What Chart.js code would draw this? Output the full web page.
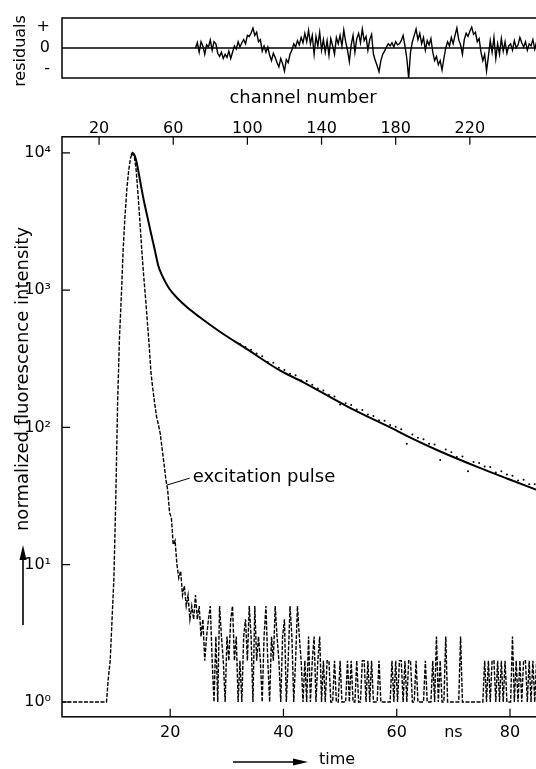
<!DOCTYPE html>
<html>
<head>
<meta charset="utf-8">
<script src="https://cdn.jsdelivr.net/npm/chart.js@4.4.1/dist/chart.umd.min.js"></script>
<style>
  html, body { margin: 0; padding: 0; background: #fff; overflow: hidden; }
  #wrap { position: relative; width: 536px; height: 769px; overflow: hidden; }
  #mainChart, #residChart { position: absolute; left: 0; top: 0; }
</style>
</head>
<body>
<div id="wrap">
  <canvas id="mainChart" width="550" height="769"></canvas>
  <canvas id="residChart" width="550" height="100"></canvas>
</div>
<script>
// axis ticks
const channelTicks = [20, 60, 100, 140, 180, 220]
const timeTicks = [20, 40, 60, 80]
const nsTick = 70
const yTickValues = [1, 10, 100, 1000, 10000]
const yTickLabels = ["10\u2070", "10\u00b9", "10\u00b2", "10\u00b3", "10\u2074"]
const residTicks = [-1, 0, 1]
const residTickLabels = ["-", "0", "+"]

// excitation pulse, one value per channel (channel 0 .. 260)
const excitationValues = [
  1, 1, 1, 1, 1, 1, 1, 1, 1, 1, 1, 1, 1, 1, 1, 1, 1, 1, 1, 1, 1, 1, 1, 1,
  1, 1.5, 2, 4, 8, 30, 150, 450, 900, 2000, 3500, 5500, 7500, 9200,
  10000, 9500, 7500, 5000, 3200, 2000, 1300, 900, 600, 400, 250, 190, 150, 120, 105, 90, 70, 55, 42,
  35, 24, 22, 14, 15, 10,
  8, 9, 6, 7, 5, 6, 4, 5, 4, 6,
  4, 5, 3, 4, 2, 3, 4, 5, 2, 1,
  3, 1, 5, 3, 2, 1, 3, 2, 4, 5,
  2, 3, 1, 2, 1, 3, 4, 2, 5, 3,
  1, 5, 2, 3, 2, 1, 3, 5, 2, 1,
  3, 2, 5, 3, 2, 1, 3, 4, 1, 2,
  5, 3, 1, 2, 5, 3, 2, 1, 2, 1,
  3, 1, 2, 3, 1, 2, 3, 1,
  2, 1, 2, 2, 1, 1, 2, 1, 1, 2,
  1, 1, 1, 2, 1, 2, 1, 1, 2, 1,
  1, 2, 2, 1, 2, 1, 2, 1, 1, 1,
  2, 1, 1, 1, 1, 1, 1, 2, 1, 2,
  1, 2, 2, 1, 2, 1, 2, 2, 1, 1,
  2, 1, 1, 1, 1, 2, 1, 1, 1, 2,
  1, 3, 1, 2, 1, 1, 3, 1, 1, 1,
  1, 1, 1, 1, 3, 1, 1, 1, 1, 1,
  1, 1, 1, 1, 1, 1, 1, 2, 1, 2,
  1, 2, 2, 1, 2, 1, 2, 1, 2, 1,
  1, 1, 3, 1, 2, 1, 2, 1, 2, 2,
  1, 2, 1, 2, 1, 2, 1, 2, 1, 1
]

// fitted decay curve
const fitChannels = [37.5, 38, 39, 40, 41, 42, 43, 44, 46, 48, 50, 52, 54, 56, 58, 62, 67, 74, 85, 100, 118, 130, 154, 177, 189, 205, 225, 240, 255, 260]
const fitValues = [9600, 10000, 9700, 8800, 7600, 6400, 5400, 4600, 3450, 2600, 1980, 1500, 1280, 1130, 1020, 880, 760, 640, 500, 370, 258, 214, 142, 100, 83, 66, 51, 42.5, 35.5, 33.5]

// measured points
const dotChannels = [96, 99, 102, 105, 108, 111, 114, 117, 120, 123, 126, 129, 132, 135, 138, 141, 144, 147, 150, 153,
  156, 159, 162, 165, 168, 171, 174, 177, 180, 183, 186, 189, 192, 195, 198, 201, 204, 207, 210, 213,
  216, 219, 222, 225, 228, 231, 234, 237, 240, 243, 246, 249, 252, 255, 258]
const dotValues = [405, 385, 368, 345, 330, 300, 296, 272, 262, 246, 240, 220, 218, 205, 192, 186, 172, 168, 147, 150,
  146, 135, 134, 124, 121, 113, 112, 104, 101, 97, 76, 89, 84, 82, 76, 75, 58, 69, 66, 61,
  61.5, 48, 56, 55, 52, 51.5, 47, 48, 45.5, 44.5, 41, 41.5, 38.5, 38.5, 36]

// weighted residuals, from channel 72 on
const residStart = 72
const residValues = [
  0.0, 0.25, -0.2, 0.3, 0.1, -0.3, 0.15, 0.05, 0.38, -0.1,
  0.3, 0.2, -0.25, -0.4, -0.2, -0.5, -0.3, -0.45, -0.15, -0.5,
  -0.2, 0.1, -0.05, 0.3, 0.05, 0.25, 0.4, 0.2, 0.6, 0.55,
  0.7, 0.95, 0.6, 0.75, 0.3, 0.4, -0.15, 0.1, -0.2, 0.05,
  -0.35, -0.6, -0.25, -0.45, -0.7, -0.9, -0.5, -0.75, -1.1, -0.55,
  -0.7, -0.3, -0.1, 0.2, 0.05, 0.35, 0.15, 0.5, 0.25, 0.7,
  0.3, 0.85, 0.2, 0.6, -0.3, 0.55, 0.1, 0.75, -0.1, 0.4,
  -0.2, 0.35, -0.35, 0.45, 0.1, -0.3, 0.5, 0.2, 0.6, 0.1,
  0.85, 0.3, -0.1, -0.65, 0.15, 0.6, -0.2, 0.45, 0.7, 0.25,
  0.9, 0.35, 0.55, -0.1, 0.4, 0.65, -0.3, -0.6, -0.85, -1.13,
  -0.6, -0.3, -0.15, 0.05, 0.2, 0.1, 0.25, 0.05, 0.3, 0.15,
  0.2, 0.35, 0.6, 0.1, -0.5, -1.43, -0.2, 0.3, 0.6, 0.9,
  0.4, 0.7, 0.2, 0.5, -0.1, 0.35, 0.15, 0.45, -0.2, -0.6,
  -0.4, -0.8, -0.6, -1.05, -0.5, 0.0, 0.3, 0.1, 0.5, 0.2,
  0.6, 0.95, 0.4, 0.15, -0.3, 0.4, 0.7, 0.55, 0.8, 1.0,
  0.65, 0.75, 0.3, 0.45, -0.2, -0.6, -0.3, -1.1, -0.4, 0.35,
  -0.2, 0.5, -0.5, 0.2, -0.3, 0.45, -0.15, 0.3, -0.25, 0.1,
  0.2, -0.1, 0.35, 0.0, 0.15, 0.5, 0.25, 0.05, 0.3, -0.1,
  0.2, 0.1, 0.4, -0.05, 0.3, 0.15, 0.45, 0.0, 0.2, 0.1
]

Chart.defaults.font.family = "'DejaVu Sans', sans-serif"
Chart.defaults.color = "#000"

function arrow(ctx, x1, y1, x2, y2) {
  // line with filled head at (x2, y2)
  const ang = Math.atan2(y2 - y1, x2 - x1)
  const len = 15, half = 3.5
  const bx = x2 - len * Math.cos(ang), by = y2 - len * Math.sin(ang)
  ctx.beginPath()
  ctx.moveTo(x1, y1)
  ctx.lineTo(bx, by)
  ctx.stroke()
  ctx.beginPath()
  ctx.moveTo(x2, y2)
  ctx.lineTo(bx - half * Math.sin(ang), by + half * Math.cos(ang))
  ctx.lineTo(bx + half * Math.sin(ang), by - half * Math.cos(ang))
  ctx.closePath()
  ctx.fill()
}

const mainDecor = {
  id: "mainDecor",
  afterDraw(chart) {
    const { ctx, chartArea: a, scales } = chart
    ctx.save()
    ctx.strokeStyle = "#000"
    ctx.fillStyle = "#000"
    ctx.lineWidth = 1.5
    ctx.strokeRect(a.left, a.top, a.right - a.left, a.bottom - a.top)

    // inward tick marks
    ctx.lineWidth = 1.2
    ctx.beginPath()
    channelTicks.forEach((v) => {
      const x = scales.channel.getPixelForValue(v)
      ctx.moveTo(x, a.top)
      ctx.lineTo(x, a.top + 8)
    })
    timeTicks.forEach((v) => {
      const x = scales.time.getPixelForValue(v)
      ctx.moveTo(x, a.bottom)
      ctx.lineTo(x, a.bottom - 8)
    })
    yTickValues.forEach((v) => {
      const y = scales.y.getPixelForValue(v)
      ctx.moveTo(a.left, y)
      ctx.lineTo(a.left + 8, y)
    })
    ctx.stroke()

    // excitation pulse label with pointer
    const px = scales.channel.getPixelForValue(56.5)
    const py = scales.y.getPixelForValue(38)
    ctx.lineWidth = 1
    ctx.beginPath()
    ctx.moveTo(px, py)
    ctx.lineTo(px + 23, py - 7)
    ctx.stroke()
    ctx.font = "18px 'DejaVu Sans'"
    ctx.textAlign = "left"
    ctx.textBaseline = "middle"
    ctx.fillText("excitation pulse", px + 26, py - 8)

    // y axis title and arrow
    ctx.save()
    ctx.translate(28, 379)
    ctx.rotate(-Math.PI / 2)
    ctx.textAlign = "center"
    ctx.textBaseline = "alphabetic"
    ctx.fillText("normalized fluorescence intensity", 0, 0)
    ctx.restore()
    ctx.lineWidth = 1.6
    arrow(ctx, 23, 625, 23, 545)

    // x axis title and arrow
    arrow(ctx, 233, 762, 308, 762)
    ctx.font = "16px 'DejaVu Sans'"
    ctx.textAlign = "left"
    ctx.textBaseline = "middle"
    ctx.fillText("time", 319, 760)
    ctx.restore()
  },
}

const residDecor = {
  id: "residDecor",
  beforeDatasetsDraw(chart) {
    const { ctx, chartArea: a, scales } = chart
    const y0 = scales.y.getPixelForValue(0)
    ctx.save()
    ctx.strokeStyle = "#000"
    ctx.lineWidth = 1.3
    ctx.beginPath()
    ctx.moveTo(a.left, y0)
    ctx.lineTo(a.right, y0)
    ctx.stroke()
    ctx.restore()
  },
  afterDraw(chart) {
    const { ctx, chartArea: a } = chart
    ctx.save()
    ctx.strokeStyle = "#000"
    ctx.lineWidth = 1.5
    ctx.strokeRect(a.left, a.top, a.right - a.left, a.bottom - a.top)
    ctx.fillStyle = "#000"
    ctx.font = "16px 'DejaVu Sans'"
    ctx.translate(25, 51)
    ctx.rotate(-Math.PI / 2)
    ctx.textAlign = "center"
    ctx.fillText("residuals", 0, 0)
    ctx.restore()
  },
}

new Chart(document.getElementById("mainChart"), {
  type: "line",
  data: {
    datasets: [
      {
        label: "excitation pulse",
        data: excitationValues.map((v, i) => ({ x: i, y: v })),
        xAxisID: "channel",
        yAxisID: "y",
        borderColor: "#000",
        borderWidth: 1.4,
        borderDash: [4, 1.5],
        pointRadius: 0,
        tension: 0,
      },
      {
        label: "fit",
        data: fitChannels.map((c, i) => ({ x: c, y: fitValues[i] })),
        xAxisID: "channel",
        yAxisID: "y",
        borderColor: "#000",
        borderWidth: 2,
        pointRadius: 0,
        cubicInterpolationMode: "monotone",
      },
      {
        label: "data",
        data: dotChannels.map((c, i) => ({ x: c, y: dotValues[i] })),
        xAxisID: "channel",
        yAxisID: "y",
        showLine: false,
        pointRadius: 1,
        pointBorderWidth: 0,
        pointBackgroundColor: "#000",
      },
    ],
  },
  options: {
    responsive: false,
    animation: false,
    devicePixelRatio: 1,
    layout: { padding: { top: 84, right: 6, bottom: 29, left: 0 } },
    plugins: { legend: { display: false }, tooltip: { enabled: false } },
    scales: {
      channel: {
        type: "linear",
        position: "top",
        min: 0,
        max: 260,
        grid: { display: false },
        border: { display: false },
        afterBuildTicks: (s) => {
          s.ticks = channelTicks.map((v) => ({ value: v }))
        },
        ticks: { padding: -10, font: { size: 16 }, maxRotation: 0, autoSkip: false },
        title: { display: true, text: "channel number", font: { size: 18 }, padding: { top: 4, bottom: 20 } },
      },
      time: {
        type: "linear",
        position: "bottom",
        min: 0.9,
        max: 86.0,
        grid: { display: false },
        border: { display: false },
        afterBuildTicks: (s) => {
          s.ticks = [...timeTicks, nsTick].sort((p, q) => p - q).map((v) => ({ value: v }))
        },
        ticks: {
          padding: -2,
          font: { size: 16 },
          maxRotation: 0,
          autoSkip: false,
          callback: (v) => (v === nsTick ? "ns" : String(v)),
        },
      },
      y: {
        type: "logarithmic",
        position: "left",
        min: 0.78,
        max: 13100,
        grid: { display: false },
        border: { display: false },
        afterFit: (s) => {
          s.width = 62
        },
        afterBuildTicks: (s) => {
          s.ticks = yTickValues.map((v) => ({ value: v }))
        },
        ticks: {
          padding: 3,
          font: { size: 16 },
          autoSkip: false,
          callback: (v, i) => yTickLabels[i],
        },
      },
    },
  },
  plugins: [mainDecor],
})

new Chart(document.getElementById("residChart"), {
  type: "line",
  data: {
    datasets: [
      {
        label: "residuals",
        data: residValues.map((r, i) => ({ x: residStart + i, y: r })),
        borderColor: "#000",
        borderWidth: 1.4,
        pointRadius: 0,
        tension: 0,
      },
    ],
  },
  options: {
    responsive: false,
    animation: false,
    devicePixelRatio: 1,
    layout: { padding: { top: 18, right: 6, bottom: 22, left: 0 } },
    plugins: { legend: { display: false }, tooltip: { enabled: false } },
    scales: {
      x: { type: "linear", min: 0, max: 260, display: false },
      y: {
        min: -1.43,
        max: 1.43,
        grid: { display: false },
        border: { display: false },
        afterFit: (s) => {
          s.width = 62
        },
        afterBuildTicks: (s) => {
          s.ticks = residTicks.map((v) => ({ value: v }))
        },
        ticks: { padding: 4, font: { size: 16 }, callback: (v, i) => residTickLabels[i] },
      },
    },
  },
  plugins: [residDecor],
})
</script>
</body>
</html>
